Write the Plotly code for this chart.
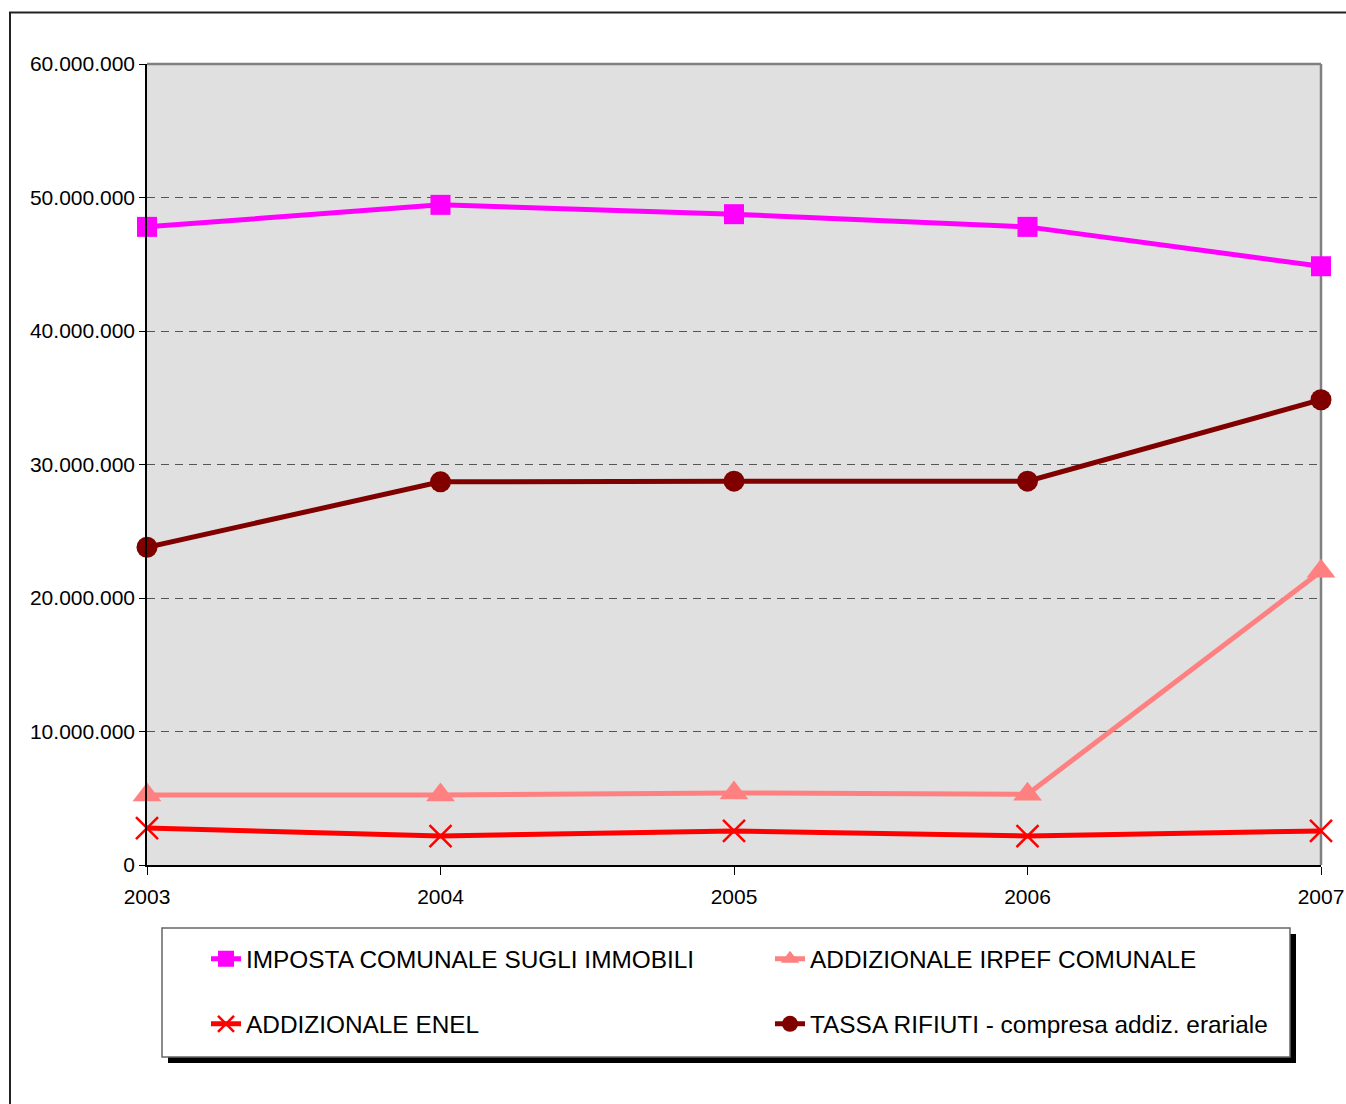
import plotly.graph_objects as go

# Years on the horizontal axis
years = [2003, 2004, 2005, 2006, 2007]

# Yearly revenue per tax (euro)
imu = [47_800_000, 49_450_000, 48_750_000, 47_800_000, 44_850_000]
irpef = [5_250_000, 5_250_000, 5_400_000, 5_300_000, 22_000_000]
enel = [2_770_000, 2_170_000, 2_550_000, 2_170_000, 2_550_000]
tassa = [23_800_000, 28_700_000, 28_750_000, 28_750_000, 34_850_000]

names = [
    "IMPOSTA COMUNALE SUGLI IMMOBILI",
    "ADDIZIONALE IRPEF COMUNALE",
    "ADDIZIONALE ENEL",
    "TASSA RIFIUTI - compresa addiz. erariale",
]

y_ticks = [0, 10_000_000, 20_000_000, 30_000_000, 40_000_000, 50_000_000, 60_000_000]

W, H = 1346, 1104
L, R, T, B = 147, 1321, 64, 865  # plot-area pixel box


def px_x(p):
    return (p - L) / (R - L)


def px_y(p):
    return (B - p) / (B - T)


FONT = "Liberation Sans, Arial, sans-serif"
LW = 5

fig = go.Figure()

fig.add_trace(go.Scatter(
    x=years, y=imu, name=names[0], mode="lines+markers",
    line=dict(color="#FF00FF", width=LW),
    marker=dict(symbol="square", size=20, color="#FF00FF"),
    cliponaxis=False, legend="legend",
))
fig.add_trace(go.Scatter(
    x=years, y=irpef, name=names[1], mode="lines+markers",
    line=dict(color="#FF8080", width=LW),
    marker=dict(symbol="triangle-up", size=25, color="#FF8080"),
    cliponaxis=False, legend="legend",
))
fig.add_trace(go.Scatter(
    x=years, y=enel, name=names[2], mode="lines+markers",
    line=dict(color="#FF0000", width=LW),
    marker=dict(symbol="x-thin", size=22, color="#FF0000",
                line=dict(color="#FF0000", width=2.5)),
    cliponaxis=False, legend="legend2",
))
fig.add_trace(go.Scatter(
    x=years, y=tassa, name=names[3], mode="lines+markers",
    line=dict(color="#800000", width=LW),
    marker=dict(symbol="circle", size=21, color="#800000"),
    cliponaxis=False, legend="legend2",
))

shapes = [
    # outer chart frame (only top and left edges fall inside the page)
    dict(type="rect", xref="paper", yref="paper",
         x0=px_x(10), x1=px_x(1400), y0=px_y(1150), y1=px_y(12.5),
         line=dict(color="#222222", width=2), fillcolor="rgba(0,0,0,0)", layer="below"),
    # plot-area top and right border
    dict(type="line", xref="paper", yref="paper", x0=0, x1=1, y0=1, y1=1,
         line=dict(color="#808080", width=2.5)),
    dict(type="line", xref="paper", yref="paper", x0=1, x1=1, y0=0, y1=1,
         line=dict(color="#808080", width=2.5), layer="below"),
    # legend shadow and box
    dict(type="rect", xref="paper", yref="paper",
         x0=px_x(168), x1=px_x(1296), y0=px_y(1063), y1=px_y(934),
         line=dict(width=0), fillcolor="#000000"),
    dict(type="rect", xref="paper", yref="paper",
         x0=px_x(162), x1=px_x(1290), y0=px_y(1057), y1=px_y(928),
         line=dict(color="#666666", width=1.5), fillcolor="#FFFFFF"),
]

legend_common = dict(
    orientation="h", xanchor="left", yanchor="middle",
    x=px_x(206), entrywidth=519, entrywidthmode="pixels",
    bgcolor="rgba(0,0,0,0)", borderwidth=0,
    font=dict(family=FONT, size=24.4, color="#000000"),
    traceorder="normal",
)

fig.update_layout(
    width=W, height=H,
    margin=dict(l=L, r=W - R, t=T, b=H - B, pad=0, autoexpand=False),
    paper_bgcolor="#FFFFFF",
    plot_bgcolor="#E0E0E0",
    separators=",.",
    font=dict(family=FONT, size=21, color="#000000"),
    showlegend=True,
    legend=dict(legend_common, y=px_y(959)),
    legend2=dict(legend_common, y=px_y(1024)),
    shapes=shapes,
    xaxis=dict(
        range=[2003, 2007], tickvals=years, ticktext=[str(y) for y in years],
        showgrid=False, zeroline=False,
        showline=True, linecolor="#000000", linewidth=1.5,
        ticks="outside", ticklen=8, tickwidth=1, tickcolor="#000000",
        ticklabelstandoff=4,
        tickfont=dict(family=FONT, size=21, color="#000000"),
    ),
    yaxis=dict(
        range=[0, 60_000_000], tickvals=y_ticks, tickformat=",d",
        showgrid=True, gridcolor="#555555", gridwidth=1, griddash="8px,6px",
        zeroline=False,
        showline=True, linecolor="#000000", linewidth=1.5,
        ticks="outside", ticklen=6, tickwidth=1, tickcolor="#000000",
        tickfont=dict(family=FONT, size=21, color="#000000"),
    ),
)

fig.write_html("out.html")
